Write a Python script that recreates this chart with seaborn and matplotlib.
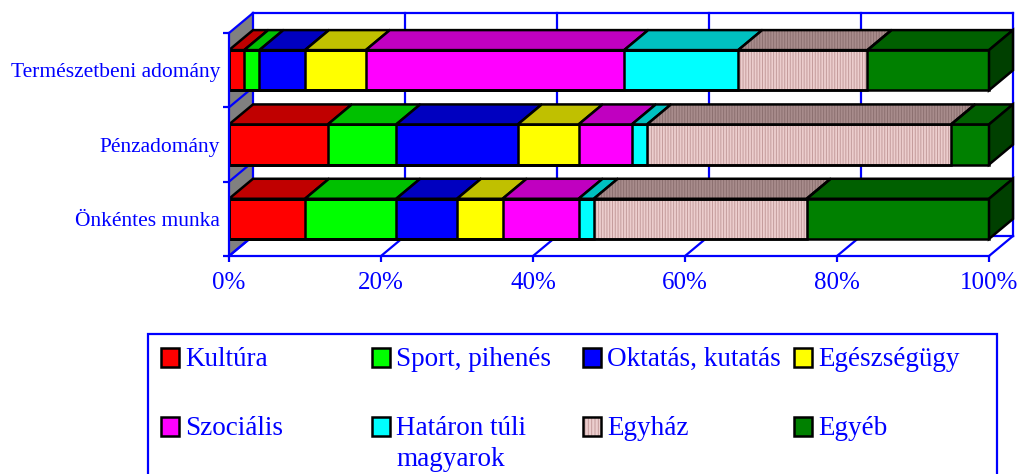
import numpy as np
import pandas as pd
import matplotlib
matplotlib.use("Agg")
import matplotlib.pyplot as plt
import seaborn as sns
from matplotlib.patches import Polygon, Rectangle
from matplotlib.lines import Line2D

# ---------------- data ----------------
categories = ["Természetbeni adomány", "Pénzadomány", "Önkéntes munka"]
series = ["Kultúra", "Sport, pihenés", "Oktatás, kutatás", "Egészségügy",
          "Szociális", "Határon túli\nmagyarok", "Egyház", "Egyéb"]
kultura = [2, 13, 10]
sport = [2, 9, 12]
oktatas = [6, 16, 8]
egeszsegugy = [8, 8, 6]
szocialis = [34, 7, 10]
hataron = [15, 2, 2]
egyhaz = [17, 40, 28]
egyeb = [16, 5, 24]
x_ticks = [0, 20, 40, 60, 80, 100]
x_tick_labels = ["0%", "20%", "40%", "60%", "80%", "100%"]

# ---------------- style ----------------
front_colors = ["#FF0000", "#00FF00", "#0000FF", "#FFFF00",
                "#FF00FF", "#00FFFF", "#ECCECE", "#008000"]
top_colors = ["#C00000", "#00C000", "#0000C0", "#C0C000",
              "#C000C0", "#00C0C0", "#A88C8C", "#006000"]
side_color = "#004000"
hatch_idx = 6
front_hatch_col = "#C49C9C"
top_hatch_col = "#8C7070"
BLUE = "#0000FF"
BAR_H = 0.54
DX = 24 / 7.6          # depth offset in data units (x)
DY = 20 / 74.333       # depth offset in data units (y)
LW = 1.6               # blue lines
ELW = 1.8              # black edges

sns.set_theme(style="white")
plt.rcParams["font.family"] = ["Liberation Serif", "DejaVu Serif"]
plt.rcParams["hatch.linewidth"] = 0.7

fig = plt.figure(figsize=(10.2, 4.74), dpi=100)
ax = fig.add_axes([229 / 1020, 218 / 474, 784 / 1020, 243 / 474])

values = np.array([kultura, sport, oktatas, egeszsegugy, szocialis,
                   hataron, egyhaz, egyeb], dtype=float)
cum = np.cumsum(values, axis=0)
start = cum - values
total = cum[-1]

# ---------------- walls / grid ----------------
ytop, ybot = -0.5, len(categories) - 0.5
ax.add_patch(Polygon([(0, ytop), (0, ybot), (DX, ybot - DY), (DX, ytop - DY)],
                     closed=True, facecolor="#808080", edgecolor="none",
                     zorder=0.2, clip_on=False))


def bline(xs, ys, z=0.6):
    ax.add_line(Line2D(xs, ys, color=BLUE, lw=LW, zorder=z, clip_on=False,
                       solid_capstyle="projecting"))


# back wall frame and vertical grid
bline([DX, 100 + DX], [ytop - DY, ytop - DY])
bline([DX, DX], [ytop - DY, ybot - DY])
for t in x_ticks[1:]:
    bline([t + DX, t + DX], [ytop - DY, ybot - DY])
# floor
bline([DX, 100 + DX], [ybot - DY, ybot - DY])
for t in x_ticks:
    bline([t, t + DX], [ybot, ybot - DY])
# left wall
for b in np.arange(ytop, ybot + 0.01, 1.0):
    bline([0, DX], [b, b - DY])
# front axes
bline([0, 100], [ybot, ybot], z=5)
bline([0, 0], [ytop, ybot], z=5)

# ---------------- bars (front faces) ----------------
for i in reversed(range(len(series))):
    d = pd.DataFrame({"category": categories, "value": cum[i]})
    n_before = len(ax.patches)
    sns.barplot(data=d, x="value", y="category", order=categories, orient="h",
                color=front_colors[i], saturation=1, width=BAR_H,
                linewidth=0, errorbar=None, ax=ax, zorder=2)
    for p in ax.patches[n_before:]:
        p.set_linewidth(0)
        if i == hatch_idx:
            p.set_hatch("||||||")
            p.set_edgecolor(front_hatch_col)
        else:
            p.set_edgecolor(front_colors[i])

# outlines
for i in reversed(range(len(series))):
    d = pd.DataFrame({"category": categories, "value": cum[i]})
    n_before = len(ax.patches)
    sns.barplot(data=d, x="value", y="category", order=categories, orient="h",
                color="black", saturation=1, width=BAR_H, fill=False,
                linewidth=ELW, errorbar=None, ax=ax, zorder=2.1)
    for p in ax.patches[n_before:]:
        p.set_facecolor("none")
        p.set_edgecolor("black")
        p.set_linewidth(ELW)

# ---------------- 3D top faces and side face ----------------
for r in range(len(categories)):
    yt = r - BAR_H / 2
    yb = r + BAR_H / 2
    for i in range(len(series)):
        x0, x1 = start[i, r], cum[i, r]
        pts = [(x0, yt), (x1, yt), (x1 + DX, yt - DY), (x0 + DX, yt - DY)]
        if i == hatch_idx:
            ax.add_patch(Polygon(pts, closed=True, facecolor=top_colors[i],
                                 edgecolor=top_hatch_col, lw=0, hatch="||||||",
                                 zorder=2.2, clip_on=False))
            ax.add_patch(Polygon(pts, closed=True, facecolor="none",
                                 edgecolor="black", lw=ELW, zorder=2.3,
                                 clip_on=False))
        else:
            ax.add_patch(Polygon(pts, closed=True, facecolor=top_colors[i],
                                 edgecolor="black", lw=ELW, zorder=2.2,
                                 clip_on=False))
    xe = total[r]
    ax.add_patch(Polygon([(xe, yt), (xe, yb), (xe + DX, yb - DY), (xe + DX, yt - DY)],
                         closed=True, facecolor=side_color, edgecolor="black",
                         lw=ELW, zorder=2.2, clip_on=False))

# ---------------- axes ----------------
ax.set_xlim(0, 100 + DX)
ax.set_ylim(ybot, ytop - DY)
for s in ax.spines.values():
    s.set_visible(False)
ax.set_xlabel("")
ax.set_ylabel("")
ax.set_xticks(x_ticks)
ax.set_xticklabels(x_tick_labels)
ax.set_yticks(range(len(categories)))
ax.set_yticklabels(categories)
ax.set_yticks(np.arange(ytop, ybot + 0.01, 1.0), minor=True)
ax.tick_params(axis="x", which="major", bottom=True, direction="out",
               length=4.5, width=LW, color=BLUE, labelcolor=BLUE,
               labelsize=18, pad=7)
ax.tick_params(axis="y", which="major", left=True, length=0,
               labelcolor=BLUE, labelsize=15.5, pad=6.5)
ax.tick_params(axis="y", which="minor", left=True, direction="out",
               length=4.5, width=LW, color=BLUE)
ax.grid(False)
ax.set_facecolor("none")

# ---------------- legend (drawn box) ----------------
W, H = 1020, 474


def fx(px):
    return px / W


def fy(py):
    return 1 - py / H


fig.patches.append(Rectangle((fx(148), fy(490)), fx(997) - fx(148), fy(334) - fy(490),
                             transform=fig.transFigure, fill=False,
                             edgecolor=BLUE, lw=LW))
col_x0, col_step = 161, 211
row_y0, row_step = 348, 69
sw_w, sw_h = 18, 19
for k, name in enumerate(series):
    c, rr = k % 4, k // 4
    sx = col_x0 + c * col_step
    sy = row_y0 + rr * row_step
    if k == hatch_idx:
        fig.patches.append(Rectangle((fx(sx), fy(sy + sw_h)), sw_w / W, sw_h / H,
                                     transform=fig.transFigure,
                                     facecolor=front_colors[k], edgecolor=front_hatch_col,
                                     lw=0, hatch="|||||"))
        fig.patches.append(Rectangle((fx(sx), fy(sy + sw_h)), sw_w / W, sw_h / H,
                                     transform=fig.transFigure, fill=False,
                                     edgecolor="black", lw=ELW))
    else:
        fig.patches.append(Rectangle((fx(sx), fy(sy + sw_h)), sw_w / W, sw_h / H,
                                     transform=fig.transFigure,
                                     facecolor=front_colors[k], edgecolor="black",
                                     lw=ELW))
    base = sy + 18
    for j, line in enumerate(name.split("\n")):
        fig.text(fx(sx + 24), fy(base + j * 31), line, color=BLUE,
                 fontsize=19.5, ha="left", va="baseline")

fig.savefig("out.png", dpi=100, facecolor="white")
